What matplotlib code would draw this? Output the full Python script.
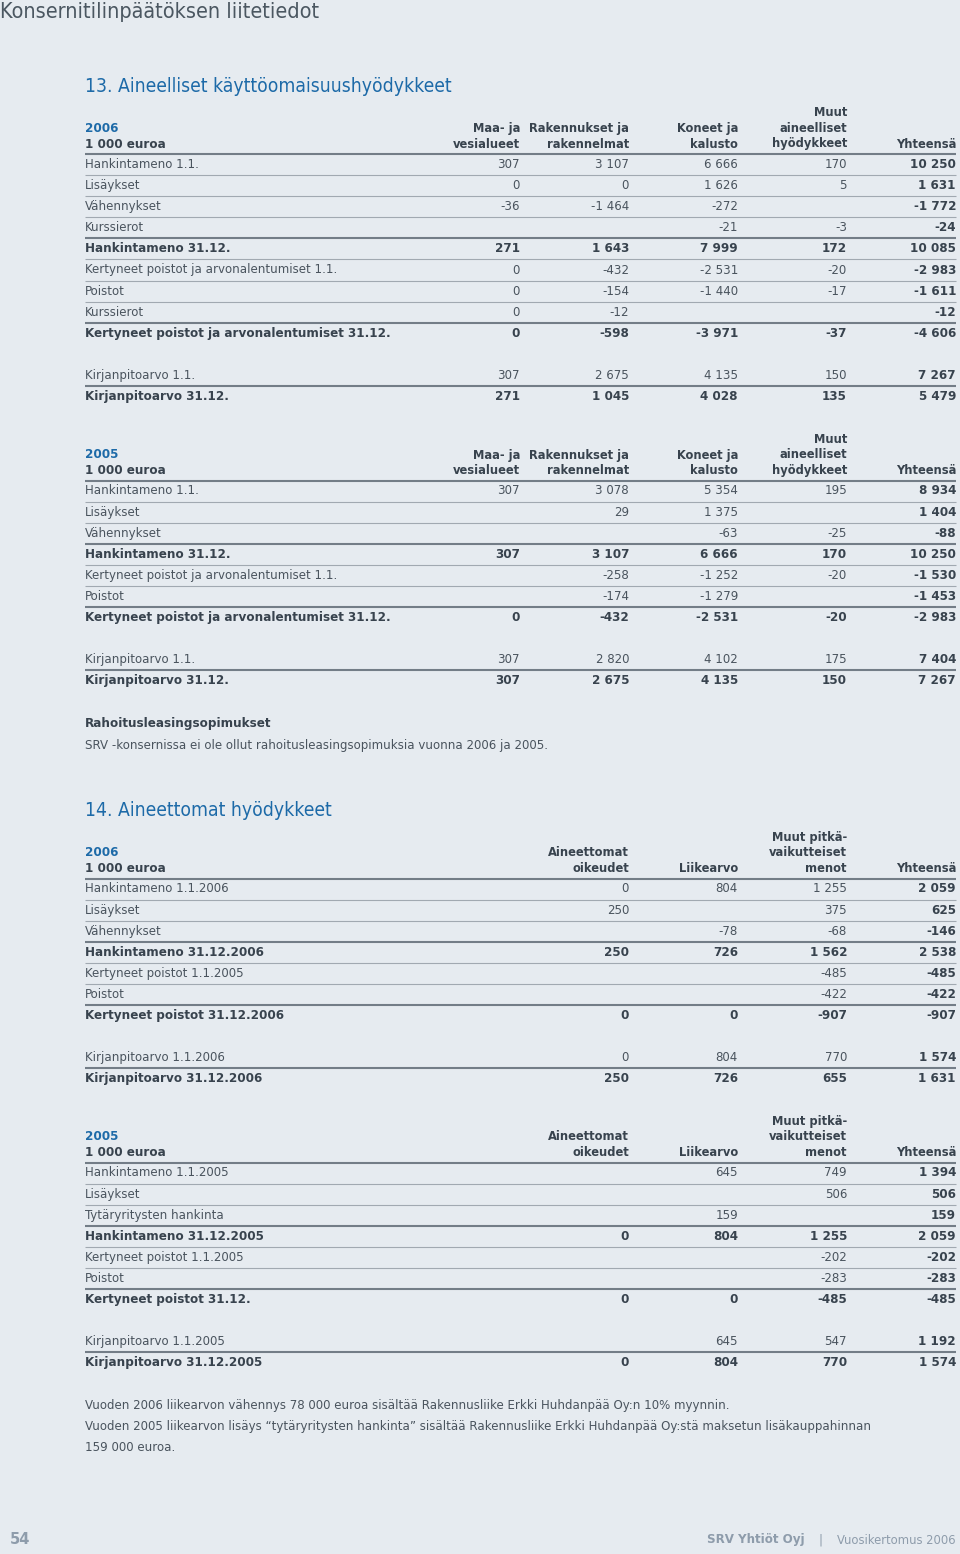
import matplotlib
matplotlib.use("Agg")
import matplotlib.pyplot as plt

# ---------------- data ----------------
# Note 13, 2006
t1_cols = ["Maa- ja\nvesialueet", "Rakennukset ja\nrakennelmat", "Koneet ja\nkalusto",
           "Muut\naineelliset\nhyödykkeet", "Yhteensä"]
t1_labels = ["Hankintameno 1.1.", "Lisäykset", "Vähennykset", "Kurssierot",
             "Hankintameno 31.12.", "Kertyneet poistot ja arvonalentumiset 1.1.",
             "Poistot", "Kurssierot", "Kertyneet poistot ja arvonalentumiset 31.12.",
             None, "Kirjanpitoarvo 1.1.", "Kirjanpitoarvo 31.12."]
t1_bold = [0, 0, 0, 0, 1, 0, 0, 0, 1, 0, 0, 1]
t1_maa = [307, 0, -36, None, 271, 0, 0, 0, 0, None, 307, 271]
t1_rak = [3107, 0, -1464, None, 1643, -432, -154, -12, -598, None, 2675, 1045]
t1_kon = [6666, 1626, -272, -21, 7999, -2531, -1440, None, -3971, None, 4135, 4028]
t1_muut = [170, 5, None, -3, 172, -20, -17, None, -37, None, 150, 135]
t1_tot = [10250, 1631, -1772, -24, 10085, -2983, -1611, -12, -4606, None, 7267, 5479]

# Note 13, 2005
t2_labels = ["Hankintameno 1.1.", "Lisäykset", "Vähennykset", "Hankintameno 31.12.",
             "Kertyneet poistot ja arvonalentumiset 1.1.", "Poistot",
             "Kertyneet poistot ja arvonalentumiset 31.12.", None,
             "Kirjanpitoarvo 1.1.", "Kirjanpitoarvo 31.12."]
t2_bold = [0, 0, 0, 1, 0, 0, 1, 0, 0, 1]
t2_maa = [307, None, None, 307, None, None, 0, None, 307, 307]
t2_rak = [3078, 29, None, 3107, -258, -174, -432, None, 2820, 2675]
t2_kon = [5354, 1375, -63, 6666, -1252, -1279, -2531, None, 4102, 4135]
t2_muut = [195, None, -25, 170, -20, None, -20, None, 175, 150]
t2_tot = [8934, 1404, -88, 10250, -1530, -1453, -2983, None, 7404, 7267]

# Note 14, 2006
t3_cols = ["Aineettomat\noikeudet", "Liikearvo", "Muut pitkä-\nvaikutteiset\nmenot", "Yhteensä"]
t3_labels = ["Hankintameno 1.1.2006", "Lisäykset", "Vähennykset", "Hankintameno 31.12.2006",
             "Kertyneet poistot 1.1.2005", "Poistot", "Kertyneet poistot 31.12.2006", None,
             "Kirjanpitoarvo 1.1.2006", "Kirjanpitoarvo 31.12.2006"]
t3_bold = [0, 0, 0, 1, 0, 0, 1, 0, 0, 1]
t3_ain = [0, 250, None, 250, None, None, 0, None, 0, 250]
t3_lii = [804, None, -78, 726, None, None, 0, None, 804, 726]
t3_muut = [1255, 375, -68, 1562, -485, -422, -907, None, 770, 655]
t3_tot = [2059, 625, -146, 2538, -485, -422, -907, None, 1574, 1631]

# Note 14, 2005
t4_labels = ["Hankintameno 1.1.2005", "Lisäykset", "Tytäryritysten hankinta",
             "Hankintameno 31.12.2005", "Kertyneet poistot 1.1.2005", "Poistot",
             "Kertyneet poistot 31.12.", None, "Kirjanpitoarvo 1.1.2005",
             "Kirjanpitoarvo 31.12.2005"]
t4_bold = [0, 0, 0, 1, 0, 0, 1, 0, 0, 1]
t4_ain = [None, None, None, 0, None, None, 0, None, None, 0]
t4_lii = [645, None, 159, 804, None, None, 0, None, 645, 804]
t4_muut = [749, 506, None, 1255, -202, -283, -485, None, 547, 770]
t4_tot = [1394, 506, 159, 2059, -202, -283, -485, None, 1192, 1574]

# ---------------- style ----------------
BG = "#e6ebf0"
TXT = "#4a545e"
BTXT = "#38434e"
BLUE = "#1d6aa8"
THIN = "#a1a9b1"
THICK = "#737d87"
FOOT = "#8e9cab"
FSR = 9.45  # regular text
FSB = 8.65  # bold text
FSH = 8.3   # bold column headers
REG = dict(family="DejaVu Sans", fontstretch="condensed")
BOLD = dict(family="DejaVu Sans", fontweight="bold")

W, H = 960, 1554
fig = plt.figure(figsize=(W / 100, H / 100), dpi=100, facecolor=BG)
ax = fig.add_axes([0, 0, 1, 1])
ax.set_xlim(0, W)
ax.set_ylim(H, 0)
ax.axis("off")
ax.set_facecolor(BG)

LEFT, RIGHT = 85, 956
PITCH = 21.1


def fmt(v):
    if v is None:
        return ""
    s = f"{abs(v):,}".replace(",", " ")
    return ("-" if v < 0 else "") + s


def draw_table(y0, year, cols, col_x, labels, bold, series):
    hy = y0 - 20.5
    ax.text(LEFT, hy - 15.5, year, color=BLUE, fontsize=FSB, va="center", ha="left", **BOLD)
    ax.text(LEFT, hy, "1 000 euroa", color=BTXT, fontsize=FSB, va="center", ha="left", **BOLD)
    for c, x in zip(cols, col_x):
        parts = c.split("\n")
        for k, p in enumerate(parts):
            yy = hy - 15.5 * (len(parts) - 1 - k)
            ax.text(x, yy, p, color=BTXT, fontsize=FSH, va="center", ha="right", **BOLD)
    ax.plot([LEFT, RIGHT], [y0 - 10.5, y0 - 10.5], color=THICK, lw=1.5, solid_capstyle="butt")
    n = len(labels)
    for i, lab in enumerate(labels):
        y = y0 + i * PITCH
        if lab is None:
            continue
        b = bold[i]
        ax.text(LEFT, y, lab, color=BTXT if b else TXT, fontsize=FSB if b else FSR,
                va="center", ha="left", **(BOLD if b else REG))
        for j, (ser, x) in enumerate(zip(series, col_x)):
            isb = b or j == len(series) - 1
            ax.text(x, y, fmt(ser[i]), color=BTXT if isb else TXT,
                    fontsize=FSB if isb else FSR,
                    va="center", ha="right", **(BOLD if isb else REG))
        if i < n - 1 and labels[i + 1] is not None:
            thick = bold[i + 1] or (i + 1 == n - 1)
            yl = y + PITCH / 2
            ax.plot([LEFT, RIGHT], [yl, yl], color=THICK if thick else THIN,
                    lw=1.5 if thick else 0.8, solid_capstyle="butt")


# page title
ax.text(0, 12, "Konsernitilinpäätöksen liitetiedot", color="#4b5761", fontsize=15.5,
        va="center", ha="left", **REG)

# Note 13
ax.text(LEFT, 86, "13. Aineelliset käyttöomaisuushyödykkeet", color=BLUE, fontsize=13.9,
        va="center", ha="left", **REG)
cx5 = [520, 629, 738, 847, 956]
draw_table(164.5, "2006", t1_cols, cx5, t1_labels, t1_bold,
           [t1_maa, t1_rak, t1_kon, t1_muut, t1_tot])
draw_table(491, "2005", t1_cols, cx5, t2_labels, t2_bold,
           [t2_maa, t2_rak, t2_kon, t2_muut, t2_tot])

ax.text(LEFT, 723, "Rahoitusleasingsopimukset", color=BTXT, fontsize=FSB, va="center",
        ha="left", **BOLD)
ax.text(LEFT, 745, "SRV -konsernissa ei ole ollut rahoitusleasingsopimuksia vuonna 2006 ja 2005.",
        color=TXT, fontsize=FSR, va="center", ha="left", **REG)

# Note 14
ax.text(LEFT, 810, "14. Aineettomat hyödykkeet", color=BLUE, fontsize=13.9,
        va="center", ha="left", **REG)
cx4 = [629, 738, 847, 956]
draw_table(889, "2006", t3_cols, cx4, t3_labels, t3_bold,
           [t3_ain, t3_lii, t3_muut, t3_tot])
draw_table(1173, "2005", t3_cols, cx4, t4_labels, t4_bold,
           [t4_ain, t4_lii, t4_muut, t4_tot])

notes = ["Vuoden 2006 liikearvon vähennys 78 000 euroa sisältää Rakennusliike Erkki Huhdanpää Oy:n 10% myynnin.",
         "Vuoden 2005 liikearvon lisäys \u201ctytäryritysten hankinta\u201d sisältää Rakennusliike Erkki Huhdanpää Oy:stä maksetun lisäkauppahinnan",
         "159 000 euroa."]
for k, t in enumerate(notes):
    ax.text(LEFT, 1405 + 21.3 * k, t, color=TXT, fontsize=FSR, va="center", ha="left", **REG)

# footer
ax.text(10, 1540, "54", color=FOOT, fontsize=10.5, va="center", ha="left", **BOLD)
ax.text(956, 1540, "Vuosikertomus 2006", color=FOOT, fontsize=9.3, va="center",
        ha="right", **REG)
ax.text(820, 1540, "|", color=FOOT, fontsize=9.3, va="center", ha="center", **REG)
ax.text(805, 1540, "SRV Yhtiöt Oyj", color=FOOT, fontsize=8.6, va="center", ha="right", **BOLD)

fig.savefig("out.png", dpi=100, facecolor=BG)
